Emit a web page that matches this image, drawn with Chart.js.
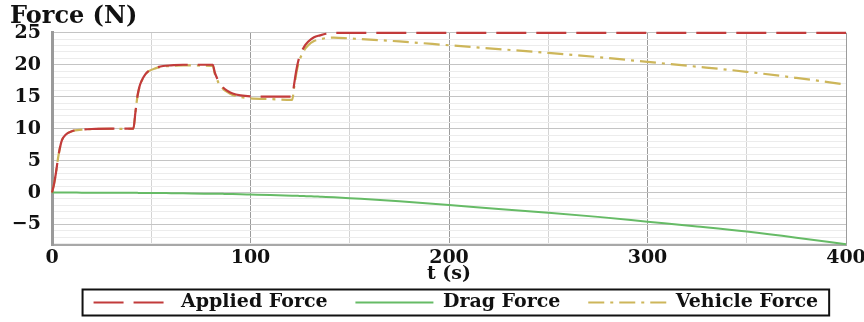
<!DOCTYPE html>
<html>
<head>
<meta charset="utf-8">
<script src="https://cdn.jsdelivr.net/npm/chart.js@4/dist/chart.umd.min.js"></script>
<style>
  html, body { margin: 0; padding: 0; background: #fff; }
  #wrap { width: 864px; height: 322px; }
</style>
</head>
<body>
<div id="wrap"><canvas id="forceChart" width="864" height="322"></canvas></div>
<script>
// time samples (s)
const tSamples = [0, 1, 2, 3, 4, 5, 7, 10, 15, 20, 30, 41, 42, 43, 44, 45, 47, 49, 52, 56, 60, 66,
    81, 82, 83, 84, 86, 88, 91, 95, 100, 110, 121, 122, 123, 124, 125, 127, 129, 132, 135, 138,
    142, 150, 175, 200, 225, 250, 275, 300, 325, 350, 375, 400];

// forces (N)
const appliedForce = [0, 1.3, 3.1, 5.3, 7.0, 8.2, 9.1, 9.6, 9.85, 9.95, 10, 10, 12.5, 15.0, 16.5, 17.4,
    18.5, 19.1, 19.5, 19.8, 19.9, 20, 20, 18.8, 18.0, 17.3, 16.5, 16.0, 15.5, 15.2, 15.05, 15, 15,
    17.0, 19.0, 20.5, 21.5, 22.8, 23.6, 24.3, 24.6, 24.85, 25, 25, 25, 25, 25, 25, 25, 25, 25, 25, 25, 25];

const dragForce = [0, 0, 0, 0, 0, 0, 0, 0, -0.01, -0.01, -0.02, -0.04, -0.04, -0.04, -0.05, -0.05,
    -0.05, -0.06, -0.07, -0.08, -0.09, -0.11, -0.17, -0.18, -0.18, -0.19, -0.2, -0.21, -0.23, -0.26,
    -0.3, -0.38, -0.48, -0.49, -0.5, -0.51, -0.52, -0.54, -0.57, -0.6, -0.64, -0.68, -0.74, -0.88,
    -1.35, -1.95, -2.55, -3.15, -3.8, -4.55, -5.3, -6.1, -7.05, -8.1];

const vehicleForce = [0, 1.3, 3.1, 5.3, 7.0, 8.2, 9.1, 9.6, 9.84, 9.94, 9.98, 9.96, 12.46, 14.96,
    16.45, 17.35, 18.45, 19.04, 19.43, 19.72, 19.81, 19.89, 19.83, 18.62, 17.82, 17.11, 16.3, 15.79,
    15.27, 14.94, 14.75, 14.62, 14.52, 16.51, 18.5, 19.99, 20.98, 22.26, 23.03, 23.7, 23.96, 24.17,
    24.26, 24.12, 23.65, 23.05, 22.45, 21.85, 21.2, 20.45, 19.7, 18.9, 17.95, 16.9];

const seriesNames = ['Applied Force', 'Drag Force', 'Vehicle Force'];

// y grid positions (labelled every 5 N, faint lines every 1 N)
const yTicks = [-8, -7, -6, -5, -4, -3, -2, -1, 0, 1, 2, 3, 4, 5, 6, 7, 8, 9, 10, 11, 12, 13, 14,
    15, 16, 17, 18, 19, 20, 21, 22, 23, 24, 25];
const yLabelled = [-5, 0, 5, 10, 15, 20, 25];
// x grid positions, labelled every 100 s
const xTicks = [0, 50, 100, 150, 200, 250, 300, 350, 400];
const xLabelled = [0, 100, 200, 300, 400];

function toPoints(values) {
    return values.map((v, i) => ({ x: tSamples[i], y: v }));
}

const serif = "'DejaVu Serif', 'Liberation Serif', serif";
const legendFont = { family: serif, size: 19, weight: 'bold' };
const sampleWidth = 78;
const trail = '   ';

// draws the frame round the legend items
const legendFrame = {
    id: 'legendFrame',
    afterDraw(chart) {
        const legend = chart.legend;
        const boxes = legend.legendHitBoxes;
        if (!boxes || !boxes.length) return;
        const ctx = chart.ctx;
        const first = boxes[0];
        const last = boxes[boxes.length - 1];
        ctx.save();
        ctx.font = `bold ${legendFont.size}px ${serif}`;
        const lastText = seriesNames[seriesNames.length - 1];
        const left = first.left - 11;
        const right = last.left + sampleWidth + legendFont.size / 2 + ctx.measureText(lastText).width + 11;
        const top = first.top + first.height / 2 - 13;
        ctx.strokeStyle = '#111';
        ctx.lineWidth = 2;
        ctx.strokeRect(left, top, right - left, 26);
        ctx.restore();
    }
};

const ctx = document.getElementById('forceChart').getContext('2d');
new Chart(ctx, {
    type: 'line',
    data: {
        datasets: [
            {
                label: seriesNames[0],
                data: toPoints(appliedForce),
                borderColor: '#c23b3b',
                borderWidth: 2.2,
                borderDash: [30, 10],
                pointRadius: 0,
                cubicInterpolationMode: 'monotone',
                clip: 6
            },
            {
                label: seriesNames[1],
                data: toPoints(dragForce),
                borderColor: '#66bb66',
                borderWidth: 2,
                pointRadius: 0,
                cubicInterpolationMode: 'monotone',
                clip: 6
            },
            {
                label: seriesNames[2],
                data: toPoints(vehicleForce),
                borderColor: '#cdb65a',
                borderWidth: 2.2,
                borderDash: [16, 6, 3, 6],
                pointRadius: 0,
                cubicInterpolationMode: 'monotone',
                clip: 6
            }
        ]
    },
    options: {
        responsive: false,
        animation: false,
        layout: { padding: { left: 10, right: 18, top: 0, bottom: 0 } },
        plugins: {
            title: {
                display: true,
                text: 'Force (N)',
                align: 'start',
                color: '#111',
                font: { family: serif, size: 24, weight: 'bold' },
                padding: { top: 2, bottom: 2 }
            },
            legend: {
                position: 'bottom',
                align: 'end',
                labels: {
                    usePointStyle: true,
                    pointStyle: 'line',
                    pointStyleWidth: sampleWidth,
                    padding: 8,
                    color: '#111',
                    font: legendFont,
                    generateLabels(chart) {
                        const items = Chart.defaults.plugins.legend.labels.generateLabels(chart);
                        items.forEach((item, i) => {
                            const ds = chart.data.datasets[i];
                            item.pointStyle = 'line';
                            item.lineDash = ds.borderDash || [];
                            item.lineWidth = 2;
                            item.strokeStyle = ds.borderColor;
                            item.text = item.text + trail;
                        });
                        return items;
                    }
                }
            },
            tooltip: { enabled: false }
        },
        scales: {
            x: {
                type: 'linear',
                min: 0,
                max: 400,
                afterBuildTicks(scale) { scale.ticks = xTicks.map(v => ({ value: v })); },
                afterFit(scale) {
                    scale.height = 40;
                    scale.paddingRight = 0;
                    scale.paddingLeft = 0;
                },
                ticks: {
                    autoSkip: false,
                    padding: 2,
                    color: '#111',
                    maxRotation: 0,
                    font: { family: serif, size: 19, weight: 'bold' },
                    callback: v => (xLabelled.includes(v) ? v : '')
                },
                grid: {
                    drawTicks: false,
                    color: c => (c.tick && xLabelled.includes(c.tick.value) ? '#9c9c9c' : '#d4d4d4'),
                    lineWidth: 1
                },
                border: { color: '#a8a8a8', width: 2 },
                title: {
                    display: true,
                    text: 't (s)',
                    color: '#111',
                    font: { family: serif, size: 19, weight: 'bold' },
                    padding: { top: 0, bottom: 0 }
                }
            },
            y: {
                min: -8.2,
                max: 25,
                afterBuildTicks(scale) { scale.ticks = yTicks.map(v => ({ value: v })); },
                afterFit(scale) { scale.width = 42; },
                ticks: {
                    autoSkip: false,
                    padding: 11,
                    color: '#111',
                    font: { family: serif, size: 19, weight: 'bold' },
                    callback: v => (yLabelled.includes(v) ? String(v).replace('-', '\u2212') : '')
                },
                grid: {
                    drawTicks: false,
                    color: c => (c.tick && yLabelled.includes(c.tick.value) ? '#c4c4c4' : '#ececec'),
                    lineWidth: 1
                },
                border: { color: '#9a9a9a', width: 3 }
            }
        }
    },
    plugins: [legendFrame]
});
</script>
</body>
</html>
